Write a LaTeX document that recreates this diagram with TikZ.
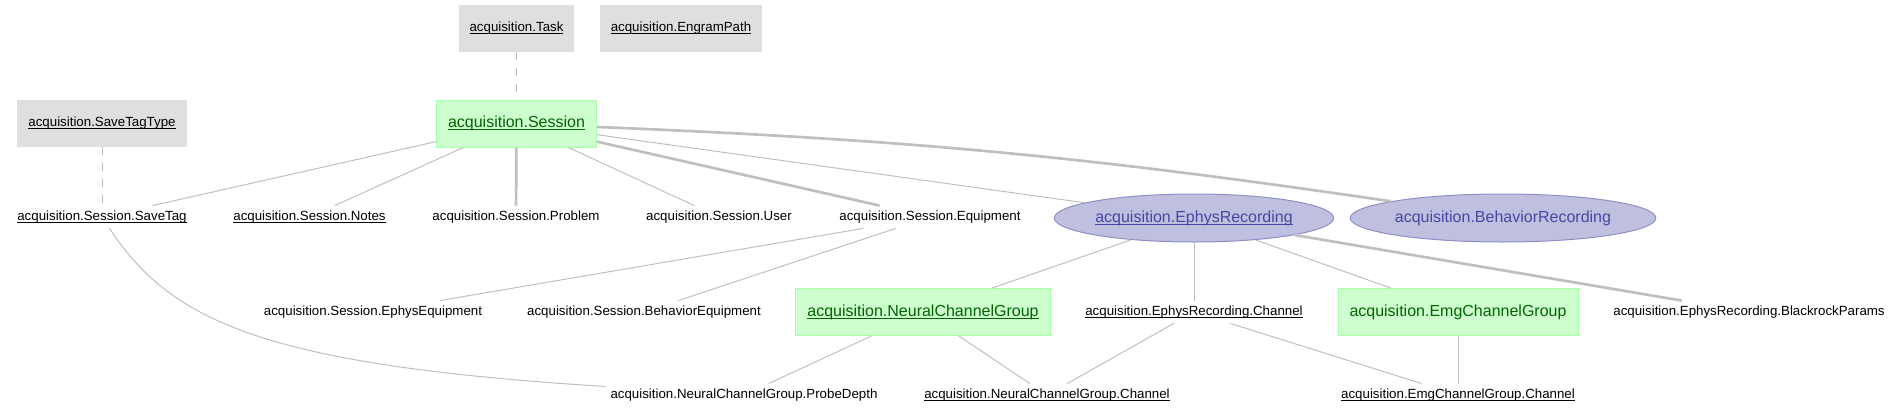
\documentclass[tikz,border=0pt]{standalone}
\usepackage{fontspec}
\setmainfont{Liberation Sans}
\usetikzlibrary{shapes.geometric}

\definecolor{lookupfill}{HTML}{DFDFDF}
\definecolor{manualfill}{HTML}{CEFFCE}
\definecolor{manualline}{HTML}{A7FFA7}
\definecolor{manualtext}{HTML}{006400}
\definecolor{importfill}{HTML}{BFBFDF}
\definecolor{importline}{HTML}{8F8FC7}
\definecolor{importtext}{HTML}{4747A3}
\definecolor{edgegray}{HTML}{BFBFBF}

% underline close to the baseline, as in the diagram
\newcommand{\keyname}[1]{\setbox0\hbox{#1}\rlap{\rule[-0.17em]{\wd0}{0.075em}}\box0}

\begin{document}
\begin{tikzpicture}[
    x=1pt, y=-1pt,
    % Define styles for the table types
    lookup/.style={rectangle, fill=lookupfill, minimum height=47pt, inner xsep=11pt, font=\fontsize{13.3}{16}\selectfont},
    manual/.style={rectangle, draw=manualline, line width=1pt, fill=manualfill, text=manualtext, minimum height=47pt, inner xsep=11.5pt, font=\fontsize{16}{19}\selectfont},
    imported/.style={ellipse, draw=importline, line width=1pt, fill=importfill, text=importtext, minimum height=48pt, inner xsep=0pt, inner ysep=0pt, font=\fontsize{16}{19}\selectfont},
    part/.style={inner xsep=5pt, inner ysep=5pt, font=\fontsize{13.3}{16}\selectfont},
    conn/.style={edgegray, line width=1pt},
    strong_conn/.style={edgegray, line width=2.67pt},
    dep_conn/.style={edgegray, line width=1pt, dash pattern=on 8pt off 8pt}
]
    \useasboundingbox (0,0) rectangle (1901,415);

    % Lookup tables
    \node[lookup] (task) at (516.5,28.5) {\keyname{acquisition.Task}};
    \node[lookup] (engram_path) at (681,28.5) {\keyname{acquisition.EngramPath}};
    \node[lookup] (save_tag_type) at (102,123.5) {\keyname{acquisition.SaveTagType}};

    % Manual tables
    \node[manual] (session) at (516.5,123.5) {\keyname{acquisition.Session}};
    \node[manual] (neural_group) at (923,312) {\keyname{acquisition.NeuralChannelGroup}};
    \node[manual] (emg_group) at (1458,312) {acquisition.EmgChannelGroup};

    % Imported tables
    \node[imported] (ephys_rec) at (1194,218) {\keyname{acquisition.EphysRecording}};
    \node[imported] (behav_rec) at (1503,218) {acquisition.BehaviorRecording};

    % Part tables
    \node[part] (save_tag) at (102,217) {\keyname{acquisition.Session.SaveTag}};
    \node[part] (notes) at (309.5,217) {\keyname{acquisition.Session.Notes}};
    \node[part] (problem) at (516,217) {acquisition.Session.Problem};
    \node[part] (user) at (719,217) {acquisition.Session.User};
    \node[part] (equipment) at (930,217) {acquisition.Session.Equipment};
    \node[part] (ephys_equip) at (373,312) {acquisition.Session.EphysEquipment};
    \node[part] (behav_equip) at (644,312) {acquisition.Session.BehaviorEquipment};
    \node[part] (ephys_chan) at (1194,312) {\keyname{acquisition.EphysRecording.Channel}};
    \node[part] (blackrock) at (1749,312) {acquisition.EphysRecording.BlackrockParams};
    \node[part] (probe_depth) at (744,395) {acquisition.NeuralChannelGroup.ProbeDepth};
    \node[part] (neural_chan) at (1047,395) {\keyname{acquisition.NeuralChannelGroup.Channel}};
    \node[part] (emg_chan) at (1458,395) {\keyname{acquisition.EmgChannelGroup.Channel}};

    % Secondary dependencies
    \draw[dep_conn] (task) -- (session);
    \draw[dep_conn] (save_tag_type) -- (save_tag);

    % One-to-many connections
    \foreach \a/\b in {session/save_tag, session/notes, session/user, session/ephys_rec,
        equipment/ephys_equip, equipment/behav_equip,
        ephys_rec/neural_group, ephys_rec/ephys_chan, ephys_rec/emg_group,
        neural_group/probe_depth, neural_group/neural_chan,
        ephys_chan/neural_chan, ephys_chan/emg_chan, emg_group/emg_chan}
        \draw[conn] (\a) -- (\b);

    % One-to-one connections
    \draw[strong_conn] (session) -- (problem);
    \draw[strong_conn] (session) -- (equipment);
    \draw[strong_conn] (session) to[bend left=3] (behav_rec);
    \draw[strong_conn] (ephys_rec) -- (blackrock);

    % Long link from save tag
    \draw[conn] (save_tag) .. controls (170,320) and (260,365) .. (probe_depth);

\end{tikzpicture}
\end{document}
